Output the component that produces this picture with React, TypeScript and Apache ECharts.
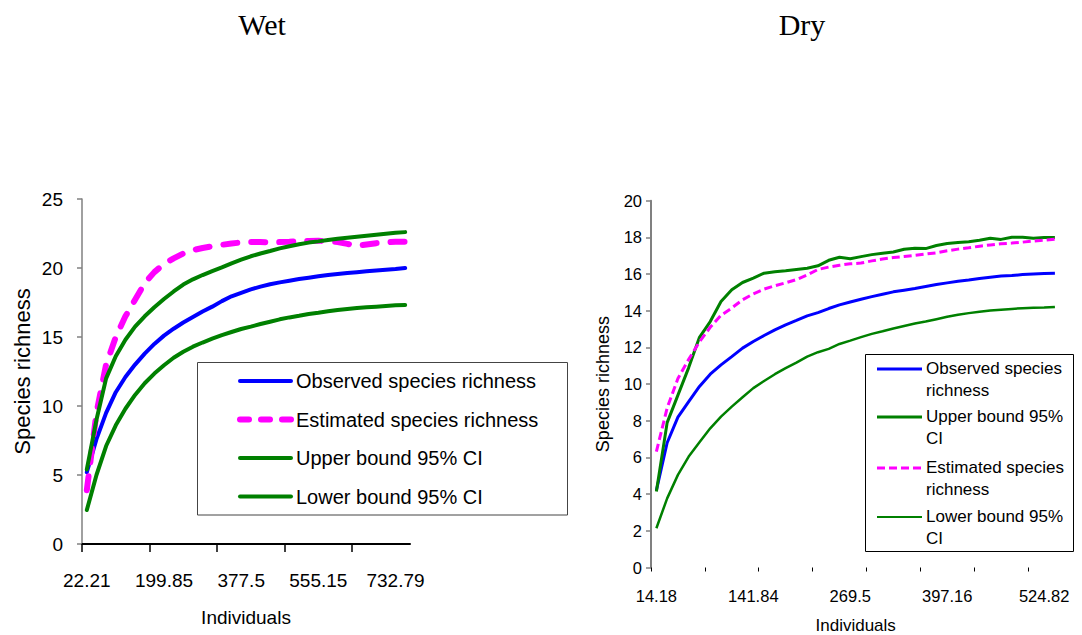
import React, { useEffect, useRef } from "react";
import * as echarts from "echarts";

// ---------- Wet ----------
const wetIndividuals = [
  "22.21", "44.41", "66.62", "88.82", "111.03", "133.24", "155.44", "177.65", "199.85", "222.06",
  "244.26", "266.47", "288.68", "310.88", "333.09", "355.29", "377.5", "399.71", "421.91", "444.12",
  "466.32", "488.53", "510.74", "532.94", "555.15", "577.35", "599.56", "621.76", "643.97", "666.18",
  "688.38", "710.59", "732.79", "755",
];
const wetObserved = [
  5.2, 7.6, 9.5, 11.0, 12.1, 13.0, 13.8, 14.5, 15.1, 15.6,
  16.05, 16.45, 16.85, 17.2, 17.6, 17.95, 18.2, 18.45, 18.65, 18.82,
  18.96, 19.08, 19.2, 19.3, 19.4, 19.49, 19.57, 19.64, 19.7, 19.76,
  19.82, 19.87, 19.92, 20.0,
];
const wetEstimated = [
  3.9, 9.5, 13.0, 15.0, 16.5, 17.7, 18.9, 19.7, 20.3, 20.7,
  21.05, 21.3, 21.45, 21.57, 21.68, 21.78, 21.85, 21.88, 21.88, 21.86,
  21.88, 21.9, 21.93, 21.96, 21.98, 21.93, 21.88, 21.75, 21.6, 21.7,
  21.8, 21.86, 21.9, 21.9,
];
const wetUpper = [
  5.4, 9.0, 12.0, 13.6, 14.8, 15.75, 16.5, 17.15, 17.75, 18.3,
  18.8, 19.18, 19.49, 19.78, 20.05, 20.34, 20.6, 20.85, 21.05, 21.23,
  21.42, 21.58, 21.72, 21.84, 21.93, 22.03, 22.12, 22.2, 22.27, 22.34,
  22.41, 22.48, 22.55, 22.6,
];
const wetLower = [
  2.46, 5.0, 7.1, 8.6, 9.8, 10.8, 11.65, 12.35, 12.95, 13.5,
  13.93, 14.3, 14.6, 14.88, 15.14, 15.36, 15.58, 15.75, 15.94, 16.11,
  16.28, 16.42, 16.54, 16.67, 16.76, 16.86, 16.96, 17.03, 17.1, 17.15,
  17.2, 17.25, 17.3, 17.32,
];

// ---------- Dry ----------
const dryIndividuals = [
  "14.18", "28.37", "42.55", "56.74", "70.92", "85.11", "99.29", "113.47", "127.66", "141.84",
  "156.03", "170.21", "184.39", "198.58", "212.76", "226.95", "241.13", "255.32", "269.5", "283.68",
  "297.87", "312.05", "326.24", "340.42", "354.61", "368.79", "382.97", "397.16", "411.34", "425.53",
  "439.71", "453.89", "468.08", "482.26", "496.45", "510.63", "524.82", "539",
];
const dryObserved = [
  4.2, 6.8, 8.2, 9.05, 9.87, 10.54, 11.05, 11.5, 11.96, 12.32,
  12.65, 12.96, 13.23, 13.47, 13.72, 13.9, 14.12, 14.32, 14.48, 14.63,
  14.77, 14.9, 15.03, 15.12, 15.21, 15.32, 15.43, 15.52, 15.61, 15.68,
  15.76, 15.83, 15.89, 15.92, 15.97, 16.0, 16.03, 16.05,
];
const dryUpper = [
  4.14, 7.9, 9.4, 10.9, 12.55, 13.41, 14.5, 15.14, 15.54, 15.78,
  16.05, 16.12, 16.18, 16.25, 16.32, 16.45, 16.75, 16.92, 16.84, 16.95,
  17.06, 17.14, 17.2, 17.35, 17.41, 17.39, 17.56, 17.67, 17.72, 17.76,
  17.84, 17.95, 17.89, 18.01, 18.01, 17.95, 17.99, 18.0,
];
const dryEstimated = [
  6.32, 8.7, 10.3, 11.35, 12.3, 13.1, 13.75, 14.15, 14.6, 14.92,
  15.18, 15.36, 15.52, 15.7, 15.95, 16.25, 16.38, 16.48, 16.56, 16.6,
  16.72, 16.82, 16.9, 16.96, 17.02, 17.09, 17.16, 17.27, 17.36, 17.43,
  17.52, 17.59, 17.65, 17.69, 17.74, 17.8, 17.85, 17.9,
];
const dryLower = [
  2.14, 3.77, 5.05, 6.05, 6.83, 7.59, 8.23, 8.77, 9.28, 9.78,
  10.17, 10.54, 10.87, 11.17, 11.5, 11.74, 11.92, 12.19, 12.37, 12.56,
  12.74, 12.88, 13.03, 13.17, 13.3, 13.41, 13.54, 13.67, 13.78, 13.87,
  13.94, 14.01, 14.06, 14.1, 14.14, 14.16, 14.17, 14.2,
];

// Tick slots on category boundaries (one more than the number of categories)
const wetTickSlots = ["", ...wetIndividuals.map(() => "")];
const dryTickSlots = ["", ...dryIndividuals.map(() => "")];

const NAME_OBS = "Observed species richness";
const NAME_EST = "Estimated species richness";
const NAME_UP = "Upper bound 95% CI";
const NAME_LOW = "Lower bound 95% CI";

const BLUE = "#0000ff";
const MAGENTA = "#ff00ff";
const GREEN = "#008000";
const SANS = "Liberation Sans, Arial, sans-serif";
const SERIF = "Liberation Serif, Times New Roman, serif";

const dryLegendRows = [
  { text: "Observed species\nrichness", color: BLUE, width: 3, dash: null as null | number[] },
  { text: "Upper bound 95%\nCI", color: GREEN, width: 3, dash: null },
  { text: "Estimated species\nrichness", color: MAGENTA, width: 3, dash: [8, 4] },
  { text: "Lower bound 95%\nCI", color: GREEN, width: 2, dash: null },
];

function buildOption() {
  const graphic: any[] = [
    {
      type: "text", x: 262, y: 24, silent: true,
      style: { text: "Wet", fontFamily: SERIF, fontSize: 30, fill: "#000", align: "center", verticalAlign: "middle" },
    },
    {
      type: "text", x: 802, y: 24, silent: true,
      style: { text: "Dry", fontFamily: SERIF, fontSize: 30, fill: "#000", align: "center", verticalAlign: "middle" },
    },
    {
      type: "rect", z: -1, silent: true,
      shape: { x: 197.5, y: 362.5, width: 370, height: 152.5 },
      style: { fill: "#fff", stroke: "#444", lineWidth: 1 },
    },
    {
      type: "rect", z: -1, silent: true,
      shape: { x: 865.5, y: 354.5, width: 208, height: 197 },
      style: { fill: "#fff", stroke: "#000", lineWidth: 1 },
    },
  ];
  const rowY = [369, 417, 468, 517];
  dryLegendRows.forEach((r, i) => {
    graphic.push({
      type: "line", silent: true,
      shape: { x1: 877, y1: rowY[i], x2: 922, y2: rowY[i] },
      style: { stroke: r.color, lineWidth: r.width, lineDash: r.dash || undefined },
    });
    graphic.push({
      type: "text", silent: true, x: 926, y: rowY[i] - 10.65,
      style: {
        text: r.text, fontFamily: SANS, fontSize: 17, lineHeight: 21.3, fill: "#000",
        align: "left", verticalAlign: "top",
      },
    });
  });

  const lineSeries = (name: string, data: number[], idx: number, color: string, width: number, type: any, cap = "butt") => ({
    type: "line", name, data, xAxisIndex: idx, yAxisIndex: idx,
    symbol: "none", showSymbol: false, smooth: false,
    lineStyle: { color, width, type, cap },
    itemStyle: { color },
    emphasis: { disabled: true },
  });

  return {
    animation: false,
    graphic,
    legend: {
      data: [
        { name: NAME_OBS, lineStyle: { width: 4, color: BLUE, cap: "round" } },
        { name: NAME_EST, lineStyle: { width: 6, color: MAGENTA, type: [9, 12], cap: "round" } },
        { name: NAME_UP, lineStyle: { width: 4, color: GREEN, cap: "round" } },
        { name: NAME_LOW, lineStyle: { width: 4, color: GREEN, cap: "round" } },
      ],
      orient: "vertical",
      left: 237,
      top: 371,
      padding: 0,
      itemWidth: 51,
      itemHeight: 20,
      itemGap: 18.5,
      selectedMode: false,
      itemStyle: { opacity: 0, borderWidth: 0 },
      textStyle: { fontFamily: SANS, fontSize: 20, color: "#000", lineHeight: 20 },
    },
    grid: [
      { left: 82, top: 199, width: 328, height: 345, containLabel: false, outerBoundsMode: "none" },
      { left: 651, top: 200.7, width: 409.3, height: 366.8, containLabel: false, outerBoundsMode: "none" },
    ],
    xAxis: [
      {
        type: "category", gridIndex: 0, data: wetIndividuals, boundaryGap: true, position: "bottom",
        axisLine: { show: true, lineStyle: { color: "#000", width: 2 } },
        axisTick: { show: false },
        axisLabel: { interval: 7, margin: 27, fontFamily: SANS, fontSize: 19, color: "#000" },
        splitLine: { show: false },
        name: "Individuals", nameLocation: "middle", nameGap: 64,
        nameTextStyle: { fontFamily: SANS, fontSize: 19, color: "#000" },
      },
      {
        type: "category", gridIndex: 1, data: dryIndividuals, boundaryGap: true, position: "bottom",
        axisLine: { show: false },
        axisTick: { show: false },
        axisLabel: { interval: 8, margin: 20, fontFamily: SANS, fontSize: 16.5, color: "#000" },
        splitLine: { show: false },
        name: "Individuals", nameLocation: "middle", nameGap: 49,
        nameTextStyle: { fontFamily: SANS, fontSize: 17, color: "#000" },
      },
      {
        type: "category", gridIndex: 0, data: wetTickSlots, boundaryGap: false, position: "bottom", offset: 0,
        axisLine: { show: false },
        axisTick: { show: true, interval: 6, length: 8, lineStyle: { color: "#000", width: 1.5 } },
        axisLabel: { show: false },
        splitLine: { show: false },
      },
      {
        type: "category", gridIndex: 1, data: dryTickSlots, boundaryGap: false, position: "bottom", offset: 0,
        axisLine: { show: false },
        axisTick: { show: true, interval: 4, length: 4, lineStyle: { color: "#000", width: 1 } },
        axisLabel: { show: false },
        splitLine: { show: false },
      },
    ],
    yAxis: [
      {
        type: "value", gridIndex: 0, min: 0, max: 25, interval: 5,
        axisLine: { show: true, lineStyle: { color: "#808080", width: 1.5 } },
        axisTick: { show: true, length: 5, lineStyle: { color: "#808080", width: 1.5 } },
        axisLabel: { margin: 19, fontFamily: SANS, fontSize: 19, color: "#000" },
        splitLine: { show: false },
        name: "Species richness", nameLocation: "middle", nameGap: 49, nameRotate: 90,
        nameTextStyle: { fontFamily: SANS, fontSize: 22, color: "#000" },
      },
      {
        type: "value", gridIndex: 1, min: 0, max: 20, interval: 2,
        axisLine: { show: true, lineStyle: { color: "#808080", width: 2 } },
        axisTick: { show: true, length: 5, lineStyle: { color: "#808080", width: 1.5 } },
        axisLabel: { margin: 9, fontFamily: SANS, fontSize: 16.5, color: "#000" },
        splitLine: { show: false },
        name: "Species richness", nameLocation: "middle", nameGap: 39, nameRotate: 90,
        nameTextStyle: { fontFamily: SANS, fontSize: 18, color: "#000" },
      },
    ],
    series: [
      lineSeries(NAME_OBS, wetObserved, 0, BLUE, 4, "solid", "round"),
      lineSeries(NAME_EST, wetEstimated, 0, MAGENTA, 6, [14, 14], "round"),
      lineSeries(NAME_UP, wetUpper, 0, GREEN, 4, "solid", "round"),
      lineSeries(NAME_LOW, wetLower, 0, GREEN, 4, "solid", "round"),
      lineSeries(NAME_OBS, dryObserved, 1, BLUE, 3, "solid"),
      lineSeries(NAME_UP, dryUpper, 1, GREEN, 3, "solid"),
      lineSeries(NAME_EST, dryEstimated, 1, MAGENTA, 3, [8, 4]),
      lineSeries(NAME_LOW, dryLower, 1, GREEN, 2.5, "solid"),
    ],
  };
}

export default function App() {
  const ref = useRef<HTMLDivElement>(null);
  useEffect(() => {
    document.body.style.margin = "0";
    const chart = echarts.init(ref.current as HTMLDivElement, null, { renderer: "svg" });
    chart.setOption(buildOption() as any);
    return () => {
      chart.dispose();
    };
  }, []);
  return <div ref={ref} style={{ width: 1082, height: 635, background: "#fff" }} />;
}
